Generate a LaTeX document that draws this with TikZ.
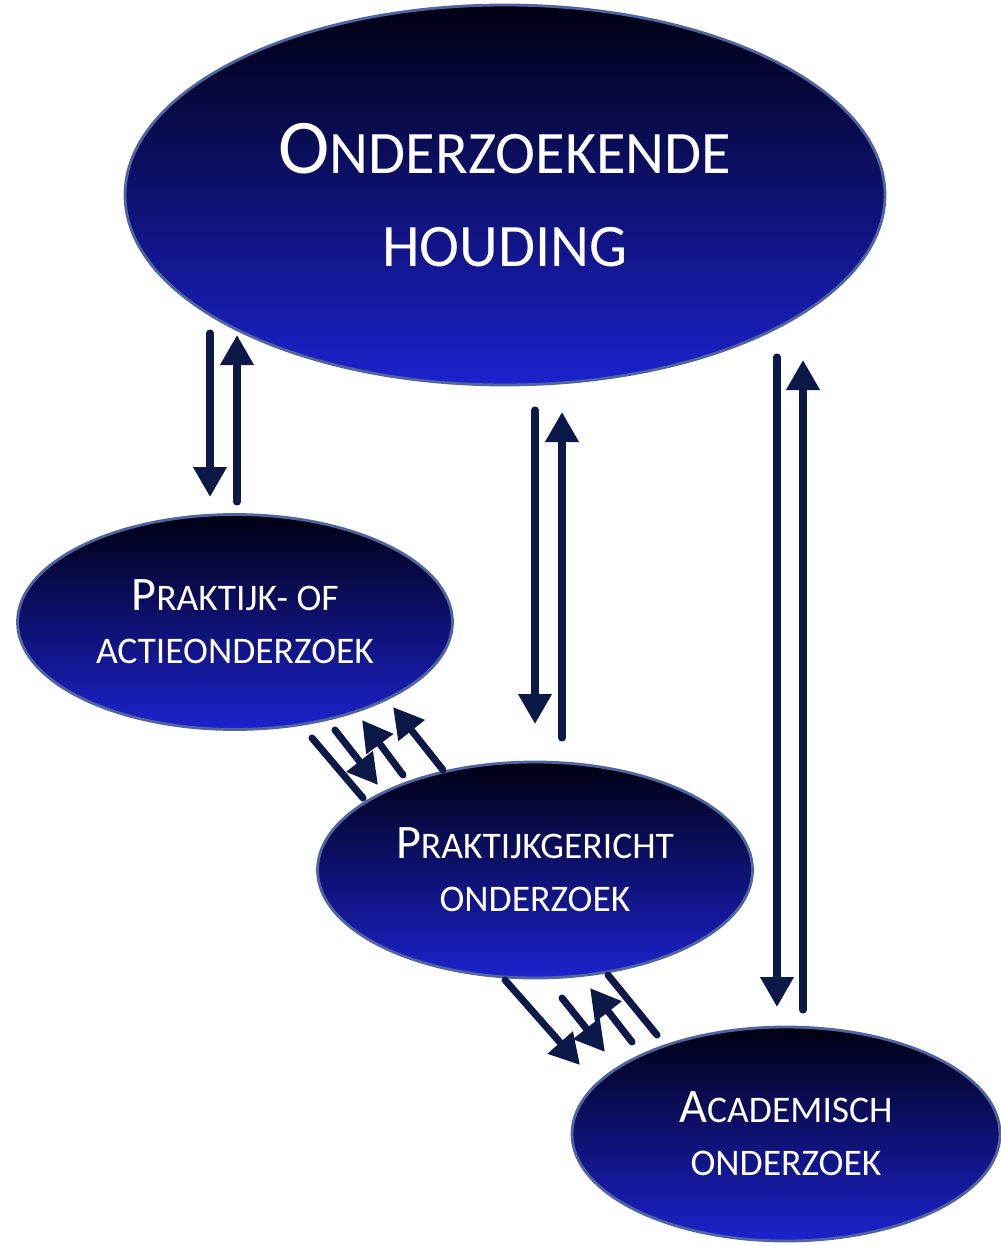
\documentclass[tikz,border=0pt]{standalone}
\usepackage{fontspec}
\setmainfont{Carlito}
\usetikzlibrary{shapes,arrows.meta}

\definecolor{navy}{RGB}{12,24,72}
\definecolor{bovenblauw}{RGB}{0,0,18}
\definecolor{onderblauw}{RGB}{28,34,205}
\definecolor{rand}{RGB}{80,100,160}
\newcommand{\kap}[2]{#1\scalebox{0.78}{#2}}

\begin{document}
\begin{tikzpicture}[x=0.1mm,y=-0.1mm,
        bol/.style={ellipse,draw=rand,line width=0.8pt,top color=bovenblauw,bottom color=onderblauw,
                    text=white,align=center,inner sep=0pt},
        pijl/.style={navy,line width=2pt,line cap=round,-{Triangle[width=3.2mm,length=3mm]}},
        lijn/.style={navy,line width=2pt,line cap=round}]
            \useasboundingbox (0,0) rectangle (1000,1246);
            \node[bol,minimum width=7.6cm,minimum height=3.8cm,font=\fontsize{22}{26.5}\selectfont]
                (houding) at (505,195) {\kap{O}{NDERZOEKENDE}\\\kap{}{HOUDING}};
            \node[bol,minimum width=4.35cm,minimum height=2.15cm,font=\fontsize{13.7}{15}\selectfont]
                (actie) at (235,622) {\kap{P}{RAKTIJK- OF}\\\kap{}{ACTIEONDERZOEK}};
            \node[bol,minimum width=4.35cm,minimum height=2.16cm,font=\fontsize{13.7}{15}\selectfont]
                (gericht) at (535,870) {\kap{P}{RAKTIJKGERICHT}\\\kap{}{ONDERZOEK}};
            \node[bol,minimum width=4.28cm,minimum height=2.14cm,font=\fontsize{13.7}{15}\selectfont]
                (academisch) at (786,1134) {\kap{A}{CADEMISCH}\\\kap{}{ONDERZOEK}};
            % pijlen heen en terug
            \foreach \xa/\ya/\xb/\yb [count=\n] in {210/333/210/497, 237/502/237/335,
                    535/410/535/724, 562/738/562/412, 777/357/777/1007, 803/1010/803/360,
                    335/730/378/785, 403/775/362/720, 443/770/393/707,
                    505/980/580/1065, 562/998/605/1052, 632/1042/590/988} {
                \coordinate (s\n) at (\xa,\ya);
                \coordinate (e\n) at (\xb,\yb);
                \draw[pijl] (s\n) -- (e\n);
            }
            % losse lijnen zonder punt
            \coordinate (l1s) at (312,738);
            \coordinate (l1e) at (363,798);
            \coordinate (l2s) at (608,975);
            \coordinate (l2e) at (657,1035);
            \draw[lijn] (l1s) -- (l1e);
            \draw[lijn] (l2s) -- (l2e);
\end{tikzpicture}
\end{document}
